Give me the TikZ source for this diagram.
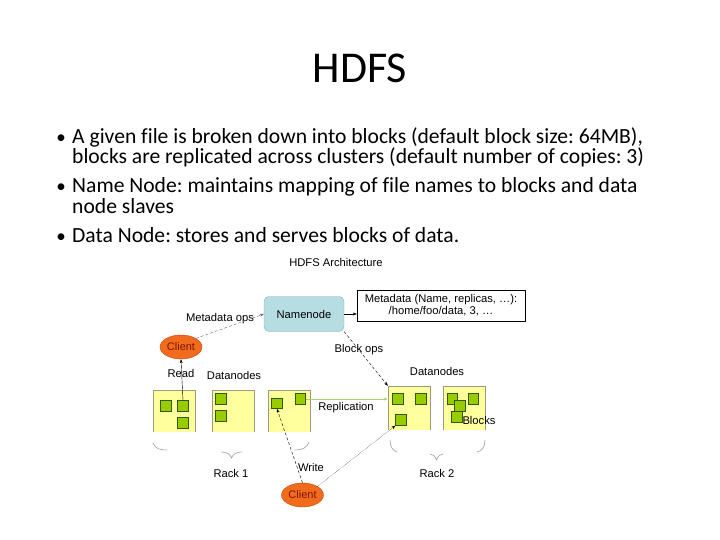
\documentclass[tikz,border=0pt]{standalone}
\usepackage{fontspec}
\setmainfont{Carlito}[Ligatures=CommonOff]
\newfontfamily\archfont{Liberation Sans}
\usepackage{xcolor}
\usetikzlibrary{shapes.geometric,arrows.meta,positioning}
\definecolor{dnyellow} {HTML}{FFFF9E}
\definecolor{dnedge}   {HTML}{9A9A80}
\definecolor{blkgreen} {HTML}{99CC00}
\definecolor{blkedge}  {HTML}{2F5A00}
\definecolor{nnteal}   {HTML}{B6DDE2}
\definecolor{nnedge}   {HTML}{86AEB4}
\definecolor{clorange} {HTML}{F26A1B}
\definecolor{cledge}   {HTML}{C44A10}
\definecolor{cltext}   {HTML}{7A1800}
\definecolor{metapurple}{HTML}{7F5A8F}
\definecolor{replgreen}{HTML}{A6D46E}
\frenchspacing

\tikzset{
  bodytext/.style={anchor=base west,inner sep=0pt,font=\fontsize{21.6}{24}\selectfont},
  bulletmark/.style={anchor=base,inner sep=0pt,font=\fontsize{19}{22}\selectfont},
  archlabel/.style={inner sep=0pt,font=\archfont\fontsize{11.2}{13}\selectfont},
  datanode/.style={fill=dnyellow,minimum width=42pt,minimum height=42pt,inner sep=0pt},
  blk/.style={fill=blkgreen,draw=blkedge,line width=0.7pt,minimum size=10.5pt,inner sep=0pt},
  clientnode/.style={ellipse,fill=clorange,draw=cledge,minimum width=42pt,minimum height=24pt,
    inner sep=0pt,text=cltext,font=\archfont\fontsize{11}{12}\selectfont},
  opsarrow/.style={-{Stealth[length=4pt,width=3pt]},line width=0.4pt},
  rackbrace/.style={draw=gray!75,line width=0.6pt}
}

\begin{document}
\begin{tikzpicture}[x=1pt,y=-1pt]
        \useasboundingbox[fill=white] (0,0) rectangle (720,540);
        % title
        \node[inner sep=0pt,font=\fontsize{44}{50}\selectfont] (title) at (360,68) {HDFS};
        % bullets
        \node[bulletmark] (dot1) at (61,144) {•};
        \node[bodytext] (l1a) at (72,144) {A given file is broken down into blocks (default block size: 64MB),};
        \node[bodytext] (l1b) at (72,164) {blocks are replicated across clusters (default number of copies: 3)};
        \node[bulletmark] (dot2) at (61,193) {•};
        \node[bodytext] (l2a) at (72,193) {Name Node: maintains mapping of file names to blocks and data};
        \node[bodytext] (l2b) at (72,214) {node slaves};
        \node[bulletmark] (dot3) at (61,242) {•};
        \node[bodytext] (l3a) at (72,242) {Data Node: stores and serves blocks of data.};

        % architecture
        \node[archlabel] (archtitle) at (336,262) {HDFS Architecture};
        \node[draw=nnedge,fill=nnteal,rounded corners=5pt,minimum width=80pt,minimum height=35pt,
              inner sep=0pt,font=\archfont\fontsize{11.2}{13}\selectfont] (namenode) at (304,314) {Namenode};
        \node[draw=black,fill=white,minimum width=168pt,minimum height=31pt,inner sep=0pt,align=center,
              font=\archfont\fontsize{11.2}{12}\selectfont] (meta) at (441,305.5)
              {Metadata (Name, replicas, \dots):\\/home/foo/data, 3, \dots};
        \node[clientnode] (client1) at (181,347) {Client};
        \node[clientnode] (client2) at (302.5,495) {Client};

        % rack 1
        \node[datanode] (r1a) at (174,411) {};
        \node[datanode] (r1b) at (233.5,411) {};
        \node[datanode] (r1c) at (289,411) {};
        % rack 2
        \node[datanode,minimum height=44pt] (r2a) at (409,408) {};
        \node[datanode,minimum height=44pt] (r2b) at (464.5,408) {};
        \foreach \b in {r1a,r1b,r1c,r2a,r2b}
          \draw[dnedge,line width=0.6pt] (\b.south west) -- (\b.north west) -- (\b.north east) -- (\b.south east);

        % blocks
        \node[blk] (b11) at (166,406) {};
        \node[blk] (b12) at (183,406) {};
        \node[blk] (b13) at (183,423) {};
        \node[blk] (b21) at (220.7,399) {};
        \node[blk] (b22) at (220.7,416) {};
        \node[blk] (b31) at (277,403.3) {};
        \node[blk] (b32) at (300.3,399) {};
        \node[blk] (c11) at (397.7,399) {};
        \node[blk] (c12) at (421,399) {};
        \node[blk] (c13) at (401,420) {};
        \node[blk] (c21) at (452.3,399) {};
        \node[blk] (c23) at (473.3,399) {};
        \node[blk] (c22) at (460,405.7) {};
        \node[blk] (c24) at (456.7,416.7) {};

        % rack braces
        \draw[rackbrace] (153,443) .. controls (155,449) and (161,450) .. (167,450);
        \draw[rackbrace] (221,452) .. controls (227,452) and (230,454) .. (231.5,458)
                         .. controls (233,454) and (236,452) .. (242,452);
        \draw[rackbrace] (295,450) .. controls (302,450) and (307,448) .. (309,442);
        \draw[rackbrace] (390,440) .. controls (390,447) and (393,451) .. (397,452);
        \draw[rackbrace] (430,454) .. controls (433,454) and (435,456) .. (436.5,460)
                         .. controls (438,456) and (440,454) .. (443,454);
        \draw[rackbrace] (485,440) .. controls (485,447) and (482,451) .. (477,452);

        % labels
        \node[archlabel] (lmetaops) at (220,319) {Metadata ops};
        \node[archlabel] (lblockops) at (359,350) {Block ops};
        \node[archlabel] (lread) at (181,373) {Read};
        \node[archlabel] (ldn1) at (234,375) {Datanodes};
        \node[archlabel] (ldn2) at (437,371) {Datanodes};
        \node[archlabel] (lrepl) at (346,408) {Replication};
        \node[archlabel] (lblocks) at (479,420) {Blocks};
        \node[archlabel] (lrack1) at (231,473) {Rack 1};
        \node[archlabel] (lrack2) at (437,473) {Rack 2};
        \node[archlabel] (lwrite) at (311,467) {Write};

        % connectors
        \draw[opsarrow] (namenode.east) -- (namenode.east -| meta.west);
        \draw[opsarrow,metapurple,densely dashed] (client1.north east) -- (namenode.west);
        \draw[opsarrow,densely dashed] (namenode.south east) -- (r2a.north west);
        \draw[opsarrow] (b12.north) -- (client1.south);
        \draw[opsarrow,replgreen,line width=0.8pt] (b32.east) -- (b32.east -| r2a.west);
        \draw[opsarrow,densely dashed] (client2.north) -- (b31.south);
        \draw[opsarrow,densely dotted] (client2.north east) -- (c13.south west);
\end{tikzpicture}
\end{document}
